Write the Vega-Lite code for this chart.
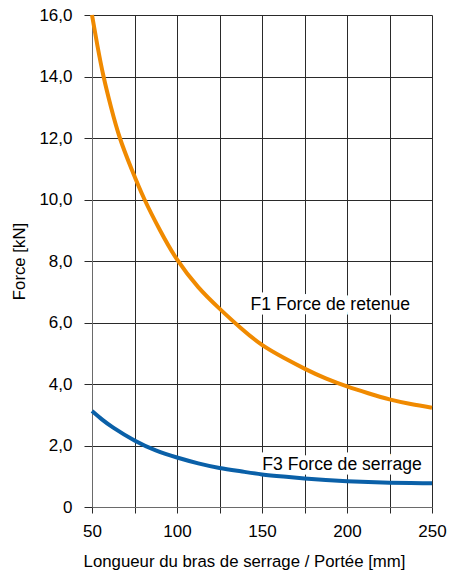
{
  "$schema": "https://vega.github.io/schema/vega-lite/v6.json",
  "autosize": "none",
  "width": 340,
  "height": 492,
  "padding": {"left": 92, "top": 15, "right": 18, "bottom": 69},
  "background": "white",
  "config": {
    "font": "Liberation Sans",
    "view": {"stroke": null},
    "axis": {
      "labelFont": "Liberation Sans",
      "titleFont": "Liberation Sans",
      "labelFontSize": 17,
      "titleFontSize": 16.8,
      "titleFontWeight": "normal",
      "labelColor": "#000",
      "titleColor": "#000",
      "gridColor": "#2a2a2a",
      "gridOpacity": 1,
      "gridWidth": 1,
      "domainColor": "#6a6a6a",
      "tickColor": "#2a2a2a",
      "labelFlush": false,
      "labelOverlap": false
    }
  },
  "datasets": {
    "curves": [
      {"x": 50, "y": 16.0, "s": "F1"},
      {"x": 53.2, "y": 15.0, "s": "F1"},
      {"x": 56.8, "y": 14.0, "s": "F1"},
      {"x": 61.2, "y": 13.0, "s": "F1"},
      {"x": 66.4, "y": 12.0, "s": "F1"},
      {"x": 73.2, "y": 11.0, "s": "F1"},
      {"x": 80.9, "y": 10.0, "s": "F1"},
      {"x": 90, "y": 9.0, "s": "F1"},
      {"x": 100, "y": 8.05, "s": "F1"},
      {"x": 112.5, "y": 7.15, "s": "F1"},
      {"x": 125, "y": 6.45, "s": "F1"},
      {"x": 137.5, "y": 5.82, "s": "F1"},
      {"x": 150, "y": 5.27, "s": "F1"},
      {"x": 162.5, "y": 4.86, "s": "F1"},
      {"x": 175, "y": 4.5, "s": "F1"},
      {"x": 187.5, "y": 4.18, "s": "F1"},
      {"x": 200, "y": 3.92, "s": "F1"},
      {"x": 212.5, "y": 3.7, "s": "F1"},
      {"x": 225, "y": 3.5, "s": "F1"},
      {"x": 237.5, "y": 3.35, "s": "F1"},
      {"x": 250, "y": 3.23, "s": "F1"},
      {"x": 50, "y": 3.12, "s": "F3"},
      {"x": 56, "y": 2.84, "s": "F3"},
      {"x": 62.5, "y": 2.58, "s": "F3"},
      {"x": 75, "y": 2.16, "s": "F3"},
      {"x": 87.5, "y": 1.84, "s": "F3"},
      {"x": 100, "y": 1.61, "s": "F3"},
      {"x": 112.5, "y": 1.42, "s": "F3"},
      {"x": 125, "y": 1.27, "s": "F3"},
      {"x": 137.5, "y": 1.16, "s": "F3"},
      {"x": 150, "y": 1.06, "s": "F3"},
      {"x": 162.5, "y": 0.99, "s": "F3"},
      {"x": 175, "y": 0.93, "s": "F3"},
      {"x": 187.5, "y": 0.88, "s": "F3"},
      {"x": 200, "y": 0.84, "s": "F3"},
      {"x": 212.5, "y": 0.81, "s": "F3"},
      {"x": 225, "y": 0.79, "s": "F3"},
      {"x": 237.5, "y": 0.78, "s": "F3"},
      {"x": 250, "y": 0.77, "s": "F3"}
    ],
    "labels": [
      {"x": 143.3, "y": 6.42, "label": "F1 Force de retenue"},
      {"x": 150.2, "y": 1.21, "label": "F3 Force de serrage"}
    ]
  },
  "layer": [
    {
      "data": {"name": "labels"},
      "mark": {"type": "text", "align": "left", "baseline": "alphabetic", "fontSize": 17.6, "font": "Liberation Sans", "stroke": "white", "strokeWidth": 9, "fill": "white"},
      "encoding": {
        "x": {
          "field": "x", "type": "quantitative",
          "scale": {"domain": [50, 250], "nice": false, "zero": false},
          "axis": {
            "values": [50, 75, 100, 125, 150, 175, 200, 225, 250],
            "grid": true,
            "tickSize": 6,
            "labelPadding": 10,
            "labelExpr": "datum.value % 50 == 0 ? datum.label : ''",
            "title": "Longueur du bras de serrage / Portée [mm]",
            "titlePadding": 14,
            "titleX": 152,
            "titleAnchor": "middle"
          }
        },
        "y": {
          "field": "y", "type": "quantitative",
          "scale": {"domain": [0, 16], "nice": false},
          "axis": {
            "values": [0, 1, 2, 3, 4, 5, 6, 7, 8, 9, 10, 11, 12, 13, 14, 15, 16],
            "grid": true,
            "tickSize": 8,
            "labelPadding": 12,
            "labelExpr": "datum.value == 0 ? '0' : (datum.value % 2 == 0 ? replace(format(datum.value, '.1f'), '.', ',') : '')",
            "title": "Force [kN]",
            "titlePadding": 10
          }
        },
        "text": {"field": "label"}
      }
    },
    {
      "data": {"name": "curves"},
      "mark": {"type": "line", "strokeWidth": 4, "interpolate": "natural", "strokeCap": "butt"},
      "encoding": {
        "x": {"field": "x", "type": "quantitative"},
        "y": {"field": "y", "type": "quantitative"},
        "color": {
          "field": "s", "type": "nominal",
          "scale": {"domain": ["F1", "F3"], "range": ["#F08A00", "#0A60A8"]},
          "legend": null
        }
      }
    },
    {
      "data": {"name": "labels"},
      "mark": {"type": "text", "align": "left", "baseline": "alphabetic", "fontSize": 17.6, "font": "Liberation Sans", "color": "#000"},
      "encoding": {
        "x": {"field": "x", "type": "quantitative"},
        "y": {"field": "y", "type": "quantitative"},
        "text": {"field": "label"}
      }
    }
  ]
}
